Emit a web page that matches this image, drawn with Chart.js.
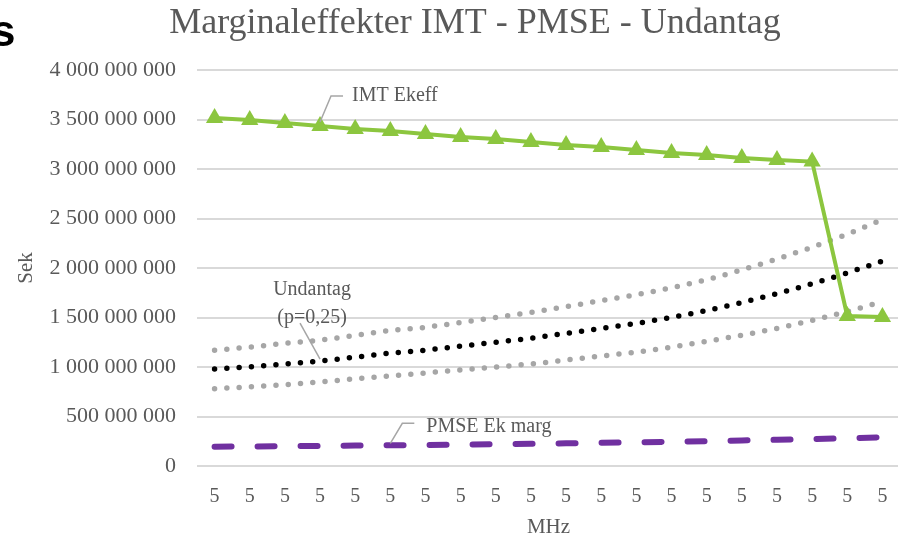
<!DOCTYPE html>
<html>
<head>
<meta charset="utf-8">
<script src="https://cdn.jsdelivr.net/npm/chart.js@4"></script>
<style>
  html, body { margin: 0; padding: 0; background: #fff; overflow: hidden; }
  #wrap { position: relative; width: 898px; height: 540px; overflow: hidden; }
  #frag { position: absolute; left: -9px; top: 6px; font: bold 44px "Liberation Sans", sans-serif; color: #000; }
  canvas { position: absolute; left: 0; top: 0; }
</style>
</head>
<body>
<div id="wrap">
  <canvas id="chart" width="910" height="540"></canvas>
  <div id="frag">s</div>
</div>
<script>
// ── Data ─────────────────────────────────────────────────
const categories = ["5","5","5","5","5","5","5","5","5","5","5","5","5","5","5","5","5","5","5","5"];

const imtEkeff = [3.515e9, 3.495e9, 3.465e9, 3.434e9, 3.404e9, 3.384e9, 3.354e9, 3.323e9, 3.303e9, 3.273e9,
                  3.242e9, 3.222e9, 3.192e9, 3.162e9, 3.141e9, 3.111e9, 3.091e9, 3.075e9, 1.515e9, 1.505e9];

const undantag = [0.98e9, 1.00e9, 1.03e9, 1.06e9, 1.10e9, 1.14e9, 1.17e9, 1.21e9, 1.25e9, 1.29e9,
                  1.34e9, 1.39e9, 1.44e9, 1.50e9, 1.57e9, 1.65e9, 1.74e9, 1.84e9, 1.95e9, 2.07e9];

const undantagHigh = [1.17e9, 1.20e9, 1.24e9, 1.27e9, 1.32e9, 1.37e9, 1.40e9, 1.45e9, 1.50e9, 1.55e9,
                      1.61e9, 1.67e9, 1.73e9, 1.80e9, 1.88e9, 1.98e9, 2.09e9, 2.21e9, 2.34e9, 2.49e9];

const undantagLow = [0.78e9, 0.80e9, 0.82e9, 0.85e9, 0.88e9, 0.91e9, 0.94e9, 0.97e9, 1.00e9, 1.03e9,
                     1.07e9, 1.11e9, 1.15e9, 1.20e9, 1.26e9, 1.32e9, 1.39e9, 1.47e9, 1.56e9, 1.66e9];

const pmseEkMarg = [0.195e9, 0.197e9, 0.200e9, 0.203e9, 0.206e9, 0.209e9, 0.212e9, 0.216e9, 0.220e9, 0.224e9,
                    0.229e9, 0.234e9, 0.239e9, 0.245e9, 0.251e9, 0.258e9, 0.265e9, 0.272e9, 0.280e9, 0.290e9];

const TEXT = "#595959";
const SERIF = "'Liberation Serif', 'DejaVu Serif', serif";

// ── Title + series labels with leader lines ───────────────
const annotate = {
  id: "annotate",
  afterDatasetsDraw(chart) {
    const ctx = chart.ctx;
    const pt = (ds, i) => chart.getDatasetMeta(ds).data[i];
    ctx.save();
    ctx.fillStyle = TEXT;
    ctx.strokeStyle = "#a6a6a6";
    ctx.lineWidth = 1.5;
    ctx.textBaseline = "middle";

    ctx.font = "36px " + SERIF;
    ctx.textAlign = "center";
    ctx.fillText("Marginaleffekter IMT - PMSE - Undantag", 475, 24);

    ctx.font = "20px " + SERIF;

    // IMT Ekeff
    let p = pt(0, 3);
    ctx.beginPath();
    ctx.moveTo(p.x, p.y - 4);
    ctx.lineTo(p.x + 11, p.y - 30);
    ctx.lineTo(p.x + 23, p.y - 30);
    ctx.stroke();
    ctx.textAlign = "left";
    ctx.fillText("IMT Ekeff", p.x + 32, p.y - 30);

    // Undantag
    p = pt(1, 3);
    ctx.beginPath();
    ctx.moveTo(p.x, p.y - 2);
    ctx.lineTo(p.x - 20, p.y - 38);
    ctx.stroke();
    ctx.textAlign = "center";
    ctx.fillText("Undantag", p.x - 8, p.y - 71);
    ctx.fillText("(p=0,25)", p.x - 8, p.y - 43);

    // PMSE Ek marg
    p = pt(4, 5);
    ctx.beginPath();
    ctx.moveTo(p.x, p.y - 2);
    ctx.lineTo(p.x + 12, p.y - 22);
    ctx.lineTo(p.x + 24, p.y - 22);
    ctx.stroke();
    ctx.textAlign = "left";
    ctx.fillText("PMSE Ek marg", p.x + 36, p.y - 19);

    ctx.restore();
  },
};

const dotted = (data, color) => ({
  data: data,
  borderColor: color,
  borderWidth: 5.5,
  borderDash: [0, 12.3],
  borderCapStyle: "round",
  pointRadius: 0,
  tension: 0,
});

new Chart(document.getElementById("chart"), {
  type: "line",
  data: {
    labels: categories,
    datasets: [
      {
        label: "IMT Ekeff",
        data: imtEkeff,
        borderColor: "#8CC63F",
        backgroundColor: "#8CC63F",
        borderWidth: 4,
        pointStyle: "triangle",
        pointRadius: 10,
        pointBorderWidth: 0,
      },
      Object.assign({ label: "Undantag" }, dotted(undantag, "#000000")),
      Object.assign({ label: "Undantag hög" }, dotted(undantagHigh, "#a6a6a6")),
      Object.assign({ label: "Undantag låg" }, dotted(undantagLow, "#a6a6a6")),
      {
        label: "PMSE Ek marg",
        data: pmseEkMarg,
        borderColor: "#7030A0",
        borderWidth: 6,
        borderDash: [17, 26],
        borderCapStyle: "round",
        pointRadius: 0,
      },
    ],
  },
  options: {
    responsive: false,
    animation: false,
    layout: { padding: { top: 70, right: 7, left: 0, bottom: 0 } },
    plugins: {
      legend: { display: false },
      tooltip: { enabled: false },
      title: { display: false },
    },
    scales: {
      x: {
        offset: true,
        grid: { display: false },
        border: { display: false },
        ticks: { color: TEXT, font: { family: SERIF, size: 20 }, autoSkip: false, maxRotation: 0, padding: 11 },
        title: { display: true, text: "MHz", color: TEXT, font: { family: SERIF, size: 21 }, padding: { top: 2, bottom: 0 } },
        afterFit: (scale) => { scale.height = 74; },
      },
      y: {
        min: 0,
        max: 4e9,
        ticks: {
          stepSize: 5e8,
          color: TEXT,
          font: { family: SERIF, size: 22 },
          padding: 21,
          callback: (v) => String(v).replace(/\B(?=(\d{3})+(?!\d))/g, " "),
        },
        grid: { color: "#d9d9d9", lineWidth: 2, drawTicks: false },
        border: { display: false },
        title: { display: true, text: "Sek", color: TEXT, font: { family: SERIF, size: 21 }, padding: { top: 14, bottom: 0 } },
        afterFit: (scale) => { scale.width = 197; },
      },
    },
  },
  plugins: [annotate],
});
</script>
</body>
</html>
